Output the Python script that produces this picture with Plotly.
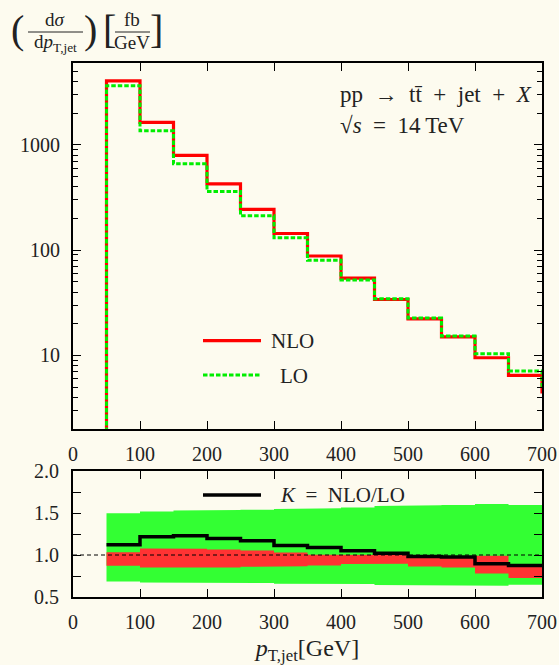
import plotly.graph_objects as go
import numpy as np

# ---------------- data ----------------
pt_edges = [50, 100, 150, 200, 250, 300, 350, 400, 450, 500, 550, 600, 650, 700, 750]
# dsigma/dpT [fb/GeV] per bin (last entry = bin beyond 700, only its edge visible)
nlo = [4060, 1640, 796, 427, 244, 144, 88, 54.3, 34, 22.2, 15.0, 9.5, 6.46, 4.5]
lo = [3650, 1360, 661, 361, 212, 131, 80, 52, 34.6, 22.7, 15.3, 10.4, 7.1, 5.2]

k_edges = [50, 100, 150, 200, 250, 300, 350, 400, 450, 500, 550, 600, 650, 700]
k_factor = [1.121, 1.216, 1.228, 1.196, 1.169, 1.113, 1.089, 1.05, 1.022, 0.982, 0.975, 0.895, 0.875]
lo_band_hi = [1.498, 1.517, 1.529, 1.537, 1.54, 1.549, 1.557, 1.564, 1.584, 1.592, 1.596, 1.608, 1.596]
lo_band_lo = [0.685, 0.673, 0.673, 0.666, 0.666, 0.658, 0.658, 0.654, 0.642, 0.642, 0.642, 0.634, 0.646]
nlo_band_hi = [1.034, 1.077, 1.074, 1.066, 1.054, 1.03, 1.002, 1.0, 1.0, 0.99, 0.963, 0.99, 0.892]
nlo_band_lo = [0.872, 0.852, 0.852, 0.852, 0.86, 0.865, 0.875, 0.892, 0.895, 0.864, 0.852, 0.78, 0.725]

x_ticks = [0, 100, 200, 300, 400, 500, 600, 700]
y_top_ticks = [10, 100, 1000]
y_bot_ticks = [0.5, 1.0, 1.5, 2.0]
y_bot_ticktext = ["0.5", "1.0", "1.5", "2.0"]

# ---------------- style ----------------
FONT = "Liberation Serif"
TXT = "#222222"
BG = "#fdfbef"
W, H = 559, 665
L, R, T, B = 73, 17, 63, 68
PW, PH = W - L - R, H - T - B


def px(xp):
    return (xp - L) / PW


def py(yp):
    return (H - B - yp) / PH


top_dom = [py(429), 1.0]
bot_dom = [0.0, py(471)]

fig = go.Figure()


def step_trace(edges, vals, axis, **kw):
    xs = [edges[0]] + list(edges)
    ys = [1e-3] + list(vals) + [vals[-1]]
    return go.Scatter(x=xs, y=ys, mode="lines", line_shape="hv",
                      xaxis="x" if axis == 1 else "x2",
                      yaxis="y" if axis == 1 else "y2",
                      showlegend=False, hoverinfo="skip", **kw)


# top panel
fig.add_trace(step_trace(pt_edges, nlo, 1, line=dict(color="#ff0000", width=3.2)))
fig.add_trace(step_trace(pt_edges, lo, 1, line=dict(color="#00ee00", width=3, dash="4.5px,2px")))


def band(edges, hi, lo_, color):
    xs, ys = [], []
    for i in range(len(hi)):
        xs += [edges[i], edges[i + 1]]
        ys += [hi[i], hi[i]]
    for i in reversed(range(len(lo_))):
        xs += [edges[i + 1], edges[i]]
        ys += [lo_[i], lo_[i]]
    return go.Scatter(x=xs, y=ys, fill="toself", fillcolor=color, mode="lines",
                      line=dict(width=0, color=color), xaxis="x2", yaxis="y2",
                      showlegend=False, hoverinfo="skip")


fig.add_trace(band(k_edges, lo_band_hi, lo_band_lo, "#33ff33"))
fig.add_trace(band(k_edges, nlo_band_hi, nlo_band_lo, "#ff3333"))
fig.add_trace(go.Scatter(x=k_edges, y=list(k_factor) + [k_factor[-1]], mode="lines",
                         line_shape="hv", line=dict(color="black", width=3.5),
                         xaxis="x2", yaxis="y2", showlegend=False, hoverinfo="skip"))

axis_common = dict(showline=True, linewidth=2, linecolor="black", mirror="ticks",
                   ticks="inside", tickcolor="black", tickwidth=1.3, showgrid=False,
                   zeroline=False, automargin=False,
                   tickfont=dict(family=FONT, size=20, color=TXT))

minor_top = [m * d for d in (1, 10, 100, 1000) for m in range(2, 10) if m * d < 6000]

fig.update_layout(
    width=W, height=H,
    margin=dict(l=L, r=R, t=T, b=B, autoexpand=False),
    paper_bgcolor=BG, plot_bgcolor=BG,
    showlegend=False,
    xaxis=dict(domain=[0, 1], anchor="y", range=[0, 700], tickvals=x_ticks,
               ticklen=8, ticklabelstandoff=6, **axis_common),
    yaxis=dict(domain=top_dom, anchor="x", type="log", range=[np.log10(2), np.log10(6000)],
               tickvals=y_top_ticks, ticktext=[str(v) for v in y_top_ticks],
               ticklen=8, ticklabelstandoff=7,
               minor=dict(tickvals=minor_top, ticks="inside", ticklen=5, tickcolor="black",
                          tickwidth=1.2, showgrid=False),
               **axis_common),
    xaxis2=dict(domain=[0, 1], anchor="y2", range=[0, 700], tickvals=x_ticks,
                ticklen=8, ticklabelstandoff=6,
                title=dict(text="<i>p</i><sub>T,jet</sub>[GeV]",
                           font=dict(family=FONT, size=24, color=TXT), standoff=8),
                **axis_common),
    yaxis2=dict(domain=bot_dom, anchor="x2", range=[0.5, 2.0], tickvals=y_bot_ticks,
                ticktext=y_bot_ticktext, ticklen=8, ticklabelstandoff=8,
                minor=dict(tickvals=[0.75, 1.25, 1.75], ticks="inside", ticklen=8,
                           tickcolor="black", tickwidth=1.2, showgrid=False),
                **axis_common),
)

# reference line at K = 1
fig.add_shape(type="line", xref="x2", yref="y2", x0=0, x1=700, y0=1, y1=1,
              line=dict(color="black", width=1, dash="4px,3px"), layer="above")

shapes_legend = [
    (203, 261, 340.7, "#ff0000", 3.2, "solid"),
    (203, 261, 375.0, "#00ee00", 3, "4.5px,2px"),
    (203, 261, 495.0, "black", 3.5, "solid"),
]
for x0, x1, yy, c, w, d in shapes_legend:
    fig.add_shape(type="line", xref="paper", yref="paper", x0=px(x0), x1=px(x1),
                  y0=py(yy), y1=py(yy), line=dict(color=c, width=w, dash=d))


def ann(text, x, y, size=20, xanchor="left", yanchor="middle"):
    fig.add_annotation(text=text, xref="paper", yref="paper", x=px(x), y=py(y),
                       xanchor=xanchor, yanchor=yanchor, showarrow=False,
                       font=dict(family=FONT, size=size, color=TXT))


SP = "\u2002"
ann("NLO", 269, 341, size=21)
ann("LO", 278, 376, size=21)
ann(f"<i>K</i>{SP}={SP}NLO/LO", 278, 495, size=21)
ann(f"pp{SP}→{SP}tt\u0304{SP}+{SP}jet{SP}+{SP}<i>X</i>", 338, 94, size=23)
ann(f"\u221a<i>s</i>{SP}={SP}14\u2009TeV", 338, 126, size=23)

# y-axis title (fraction layout)
ann("(", 17, 30, size=40, xanchor="center")
ann("d<i>σ</i>", 55, 20, size=19, xanchor="center")
ann("d<i>p</i><sub>T,jet</sub>", 55, 43, size=19, xanchor="center")
ann(")", 90, 30, size=40, xanchor="center")
ann("[", 109, 30, size=40, xanchor="center")
ann("fb", 132, 20, size=19, xanchor="center")
ann("GeV", 132, 43, size=19, xanchor="center")
ann("]", 156, 30, size=40, xanchor="center")
fig.add_shape(type="line", xref="paper", yref="paper", x0=px(28), x1=px(83),
              y0=py(32), y1=py(32), line=dict(color=TXT, width=1))
fig.add_shape(type="line", xref="paper", yref="paper", x0=px(115), x1=px(150),
              y0=py(32), y1=py(32), line=dict(color=TXT, width=1))

fig.write_html("out.html")
